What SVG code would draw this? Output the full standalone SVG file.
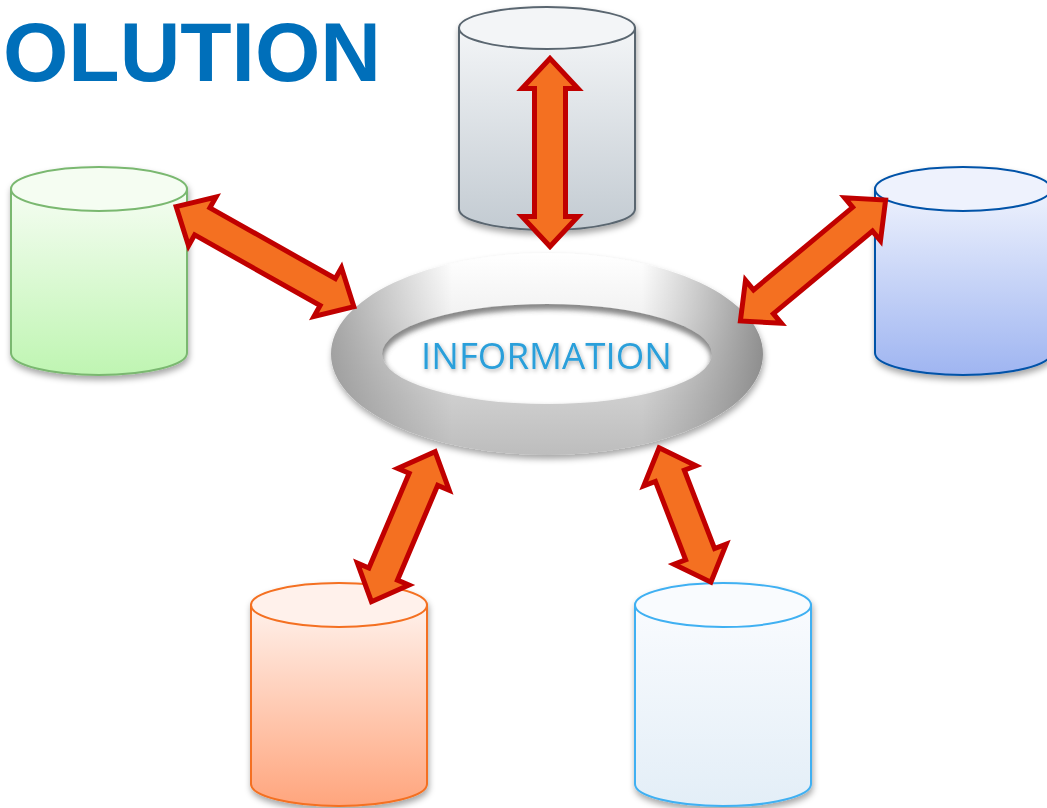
<svg xmlns="http://www.w3.org/2000/svg" width="1047" height="808" viewBox="0 0 1047 808">
<style>
.arrow{fill:#f47021;stroke:#c00000;stroke-width:5;stroke-linejoin:miter;stroke-miterlimit:10}
.cyl{stroke-width:2}
.title{font-family:"Liberation Sans",Arial,sans-serif;font-weight:bold;font-size:84px;fill:#006fba}
.info{font-family:"Open Sans","Noto Sans",sans-serif;font-size:37px;fill:#2a9fda}
</style>
<defs>
<filter id="sh" x="-20%" y="-20%" width="140%" height="140%"><feDropShadow dx="1" dy="4" stdDeviation="3" flood-color="#000" flood-opacity="0.35"/></filter>
<filter id="tsh" x="-10%" y="-30%" width="120%" height="160%"><feDropShadow dx="1" dy="2" stdDeviation="2" flood-color="#000" flood-opacity="0.3"/></filter>
<filter id="blur2" x="-10%" y="-20%" width="120%" height="140%"><feGaussianBlur stdDeviation="3"/></filter>
<linearGradient id="gGrey" x1="0" y1="0" x2="0" y2="1"><stop offset="0" stop-color="#f3f5f7"/><stop offset="1" stop-color="#c3cbd2"/></linearGradient>
<linearGradient id="gGreen" x1="0" y1="0" x2="0" y2="1"><stop offset="0" stop-color="#f5fdf2"/><stop offset="1" stop-color="#bff5b2"/></linearGradient>
<linearGradient id="gBlue" x1="0" y1="0" x2="0" y2="1"><stop offset="0" stop-color="#eef2fd"/><stop offset="1" stop-color="#9fb5f1"/></linearGradient>
<linearGradient id="gOrange" x1="0" y1="0" x2="0" y2="1"><stop offset="0" stop-color="#fff1eb"/><stop offset="1" stop-color="#ffa57d"/></linearGradient>
<linearGradient id="gLight" x1="0" y1="0" x2="0" y2="1"><stop offset="0" stop-color="#f9fbfe"/><stop offset="1" stop-color="#e3eef7"/></linearGradient>
<linearGradient id="ringV" x1="0" y1="0" x2="0" y2="1"><stop offset="0" stop-color="#ffffff"/><stop offset="0.3" stop-color="#f2f2f2"/><stop offset="0.7" stop-color="#cfcfcf"/><stop offset="1" stop-color="#bdbdbd"/></linearGradient>
<linearGradient id="ringH" x1="0" y1="0" x2="1" y2="0"><stop offset="0" stop-color="#8c8c8c" stop-opacity="0.75"/><stop offset="0.28" stop-color="#8c8c8c" stop-opacity="0"/><stop offset="0.72" stop-color="#8c8c8c" stop-opacity="0"/><stop offset="1" stop-color="#808080" stop-opacity="0.85"/></linearGradient>
<clipPath id="innerClip"><ellipse cx="547" cy="354" rx="165" ry="50"/></clipPath>
</defs>
<rect width="1047" height="808" fill="#ffffff"/>
<text class="title" x="3" y="81">OLUTION</text>

<g id="db-top" filter="url(#sh)">
<path class="cyl" d="M459,28 L459,209 A88,21 0 0 0 635,209 L635,28 Z" fill="url(#gGrey)" stroke="#5a6670"/>
<ellipse class="cyl" cx="547" cy="28" rx="88" ry="21" fill="#f3f5f7" stroke="#5a6670"/>
</g>
<g id="db-left" filter="url(#sh)">
<path class="cyl" d="M11,189 L11,353 A88,22 0 0 0 187,353 L187,189 Z" fill="url(#gGreen)" stroke="#7ab870"/>
<ellipse class="cyl" cx="99" cy="189" rx="88" ry="22" fill="#f5fdf2" stroke="#7ab870"/>
</g>
<g id="db-right" filter="url(#sh)">
<path class="cyl" d="M875,189 L875,353 A88,22 0 0 0 1051,353 L1051,189 Z" fill="url(#gBlue)" stroke="#0052a8"/>
<ellipse class="cyl" cx="963" cy="189" rx="88" ry="22" fill="#eef2fd" stroke="#0052a8"/>
</g>
<g id="db-bottom-left" filter="url(#sh)">
<path class="cyl" d="M251,605 L251,784 A88,22 0 0 0 427,784 L427,605 Z" fill="url(#gOrange)" stroke="#f47020"/>
<ellipse class="cyl" cx="339" cy="605" rx="88" ry="22" fill="#fff1eb" stroke="#f47020"/>
</g>
<g id="db-bottom-right" filter="url(#sh)">
<path class="cyl" d="M635,605 L635,784 A88,22 0 0 0 811,784 L811,605 Z" fill="url(#gLight)" stroke="#3fb0f2"/>
<ellipse class="cyl" cx="723" cy="605" rx="88" ry="22" fill="#f9fbfe" stroke="#3fb0f2"/>
</g>

<g id="information">
<g filter="url(#sh)">
<path d="M331,354 A216,101 0 1 0 763,354 A216,101 0 1 0 331,354 Z M382,354 A165,50 0 1 1 712,354 A165,50 0 1 1 382,354 Z" fill="url(#ringV)" fill-rule="evenodd"/>
</g>
<path d="M331,354 A216,101 0 1 0 763,354 A216,101 0 1 0 331,354 Z M382,354 A165,50 0 1 1 712,354 A165,50 0 1 1 382,354 Z" fill="url(#ringH)" fill-rule="evenodd"/>
<g clip-path="url(#innerClip)">
<ellipse cx="547" cy="359" rx="168" ry="54" fill="none" stroke="#6a6a6a" stroke-width="5" filter="url(#blur2)"/>
</g>
<text class="info" x="421" y="369" textLength="251" lengthAdjust="spacingAndGlyphs" filter="url(#tsh)">INFORMATION</text>
</g>

<g id="connectors">
<polygon class="arrow" transform="translate(550,152.5) rotate(90)" points="-94,0 -64,-28 -64,-15.5 64,-15.5 64,-28 94,0 64,28 64,15.5 -64,15.5 -64,28"/>
<polygon class="arrow" transform="translate(265,256.7) rotate(29.4)" points="-102,0 -72,-28 -72,-15.5 72,-15.5 72,-28 102,0 72,28 72,15.5 -72,15.5 -72,28"/>
<polygon class="arrow" transform="translate(813,260.5) rotate(-39.8)" points="-94.5,0 -64.5,-28 -64.5,-15.5 64.5,-15.5 64.5,-28 94.5,0 64.5,28 64.5,15.5 -64.5,15.5 -64.5,28"/>
<polygon class="arrow" transform="translate(403.3,526.7) rotate(-67)" points="-81.5,0 -51.5,-28 -51.5,-15.5 51.5,-15.5 51.5,-28 81.5,0 51.5,28 51.5,15.5 -51.5,15.5 -51.5,28"/>
<polygon class="arrow" transform="translate(685,515) rotate(68.9)" points="-72,0 -42,-28 -42,-15.5 42,-15.5 42,-28 72,0 42,28 42,15.5 -42,15.5 -42,28"/>
</g>
</svg>
